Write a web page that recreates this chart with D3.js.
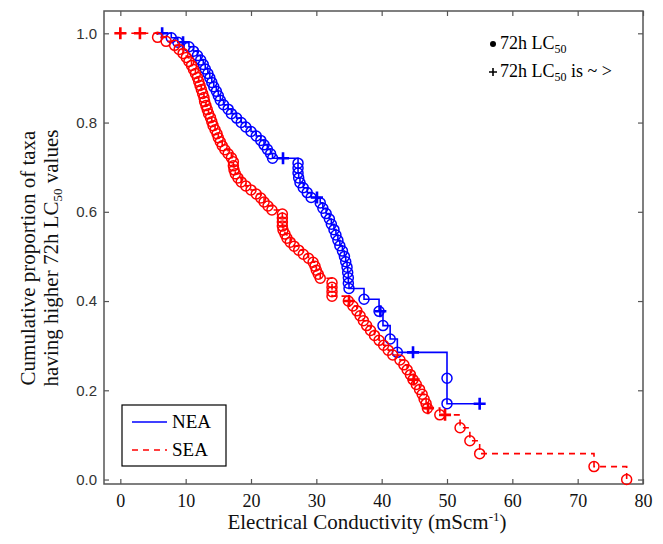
<!DOCTYPE html>
<html>
<head>
<meta charset="utf-8">
<script src="https://cdn.jsdelivr.net/npm/d3@7/dist/d3.min.js"></script>
<style>
  html, body { margin: 0; padding: 0; background: #fff; }
  svg { display: block; }
</style>
</head>
<body>
<svg id="chart" width="663" height="544"></svg>
<script>
// Survival-style step curves of 72h LC50 (electrical conductivity) for two regions.
// Each event point is where the curve steps down; censored points mark "is ~ >" values.

const neaEventX = [7.8, 8.8, 10.5, 11.2, 11.8, 12.3, 12.7, 13.0, 13.4, 13.7, 14.0, 14.3, 14.7, 15.0, 15.3, 15.8, 16.5, 17.0, 17.8, 18.5, 19.2, 20.0, 20.8, 21.5, 22.0, 22.5, 23.0, 23.3,
  27.2, 27.2, 27.2, 27.3, 27.5, 28.0, 28.6, 29.2,
  30.6, 31.0, 31.5, 32.0, 32.3, 32.7, 33.0, 33.3, 33.6, 34.0, 34.3, 34.5, 34.7, 34.8, 34.9, 34.9, 35.0,
  37.3, 39.6, 40.2, 41.3, 42.4, 50.0, 50.0];
const neaEventP = [0.990, 0.980, 0.970, 0.960, 0.950, 0.940, 0.930, 0.920, 0.910, 0.900, 0.890, 0.880, 0.870, 0.860, 0.850, 0.840, 0.830, 0.820, 0.810, 0.800, 0.790, 0.780, 0.770, 0.760, 0.750, 0.740, 0.730, 0.720,
  0.709, 0.698, 0.687, 0.676, 0.665, 0.654, 0.643, 0.632,
  0.620, 0.608, 0.596, 0.584, 0.572, 0.560, 0.548, 0.536, 0.524, 0.512, 0.500, 0.488, 0.476, 0.464, 0.452, 0.440, 0.428,
  0.404, 0.377, 0.345, 0.315, 0.285, 0.227, 0.170];
const neaCensorX = [6.4, 9.6, 24.9, 30.1, 39.8, 44.8, 55.0];
const neaCensorP = [1.000, 0.980, 0.720, 0.632, 0.377, 0.285, 0.170];

const seaEventX = [5.7, 7.0, 8.3, 9.0, 9.6, 10.1, 10.5, 10.9, 11.2, 11.5, 11.8, 12.0, 12.2, 12.4, 12.6, 12.8, 12.9, 13.1, 13.3, 13.5, 13.8, 14.0, 14.2, 14.5, 14.8, 15.0, 15.3, 15.6, 16.0, 16.5, 17.0,
  17.3, 17.3, 17.4, 17.6, 18.0, 18.5, 19.2, 20.0, 20.8, 21.5, 22.0, 22.6, 23.2,
  24.8, 24.8, 24.8, 24.8, 24.9, 25.2, 25.5, 26.0, 26.6, 27.3, 28.0, 28.8, 29.5, 29.8, 30.0, 30.3, 30.6,
  32.4, 32.4, 32.4, 32.4, 34.9,
  35.6, 36.2, 36.7, 37.2, 37.7, 38.3, 38.9, 39.6, 40.3, 41.0, 41.7, 42.8, 43.4, 43.9, 44.4, 44.8,
  45.3, 45.8, 46.2, 46.5, 46.8, 47.0, 48.9, 52.0, 53.5, 55.0, 72.5, 77.5];
const seaEventP = [0.991, 0.982, 0.973, 0.964, 0.955, 0.946, 0.937, 0.928, 0.919, 0.910, 0.901, 0.892, 0.883, 0.874, 0.865, 0.856, 0.847, 0.838, 0.829, 0.820, 0.811, 0.802, 0.793, 0.784, 0.775, 0.766, 0.757, 0.748, 0.739, 0.730, 0.721,
  0.712, 0.703, 0.694, 0.685, 0.676, 0.667, 0.658, 0.649, 0.640, 0.631, 0.622, 0.613, 0.604,
  0.595, 0.586, 0.577, 0.568, 0.559, 0.550, 0.541, 0.532, 0.523, 0.514, 0.505, 0.496, 0.487, 0.478, 0.469, 0.460, 0.451,
  0.441, 0.431, 0.421, 0.411, 0.400,
  0.389, 0.378, 0.367, 0.356, 0.345, 0.334, 0.323, 0.312, 0.301, 0.290, 0.279, 0.268, 0.257, 0.246, 0.235, 0.224,
  0.213, 0.202, 0.191, 0.180, 0.170, 0.160, 0.145, 0.116, 0.087, 0.058, 0.029, 0.000];
const seaCensorX = [0.0, 3.0, 35.0, 44.9, 47.1, 49.7];
const seaCensorP = [1.000, 1.000, 0.400, 0.224, 0.160, 0.145];

const xTicks = [0, 10, 20, 30, 40, 50, 60, 70, 80];
const yTicks = [0.0, 0.2, 0.4, 0.6, 0.8, 1.0];

const series = [
  { name: "NEA", color: "#0000ff", dash: null,
    ex: neaEventX, ep: neaEventP, cx: neaCensorX, cp: neaCensorP },
  { name: "SEA", color: "#ff0000", dash: "6,5",
    ex: seaEventX, ep: seaEventP, cx: seaCensorX, cp: seaCensorP }
];

const svg = d3.select("#chart");
const L = 104, R = 643, T = 11, B = 484;

const x = d3.scaleLinear().domain([-2.5, 80]).range([L, R]);
const y = d3.scaleLinear().domain([-0.01, 1.05]).range([B, T]);

const serif = "'Liberation Serif', 'Times New Roman', serif";
const sans = "'Liberation Sans', Arial, sans-serif";
const axisColor = "#555";

// Axes with inward ticks on all four sides
const gB = svg.append("g").attr("transform", `translate(0,${B})`)
  .call(d3.axisBottom(x).tickValues(xTicks).tickFormat(d3.format("d")).tickSizeInner(-5).tickSizeOuter(0).tickPadding(10));
gB.selectAll("text").attr("font-family", serif).attr("font-size", 18).attr("fill", "#111");

const gT = svg.append("g").attr("transform", `translate(0,${T})`)
  .call(d3.axisTop(x).tickValues(xTicks).tickFormat("").tickSizeInner(-5).tickSizeOuter(0));

const gL = svg.append("g").attr("transform", `translate(${L},0)`)
  .call(d3.axisLeft(y).tickValues(yTicks).tickFormat(d3.format(".1f")).tickSizeInner(-5).tickSizeOuter(0).tickPadding(7));
gL.selectAll("text").attr("font-family", sans).attr("font-size", 15).attr("fill", "#333");

const gR = svg.append("g").attr("transform", `translate(${R},0)`)
  .call(d3.axisRight(y).tickValues(yTicks).tickFormat("").tickSizeInner(-5).tickSizeOuter(0));

[gB, gT, gL, gR].forEach(g => {
  g.select(".domain").remove();
  g.selectAll(".tick line").attr("stroke", axisColor).attr("stroke-width", 1.2);
});

svg.append("rect")
  .attr("x", L).attr("y", T).attr("width", R - L).attr("height", B - T)
  .attr("fill", "none").attr("stroke", axisColor).attr("stroke-width", 1.5);

// Step curves, markers
const line = d3.line().x(d => x(d[0])).y(d => y(d[1])).curve(d3.curveStepAfter);
const plus = "M-6,0H6M0,-6V6";

series.forEach(s => {
  const pts = s.ex.map((v, i) => [v, s.ep[i], 0])
    .concat(s.cx.map((v, i) => [v, s.cp[i], 1]))
    .sort((a, b) => a[0] - b[0] || b[1] - a[1]);
  svg.append("path").datum(pts)
    .attr("d", line)
    .attr("fill", "none").attr("stroke", s.color).attr("stroke-width", 1.6)
    .attr("stroke-dasharray", s.dash);

  svg.append("g").selectAll("circle")
    .data(s.ex.map((v, i) => [v, s.ep[i]]))
    .join("circle")
    .attr("cx", d => x(d[0])).attr("cy", d => y(d[1])).attr("r", 5)
    .attr("fill", "none").attr("stroke", s.color).attr("stroke-width", 1.5);

  svg.append("g").selectAll("path")
    .data(s.cx.map((v, i) => [v, s.cp[i]]))
    .join("path")
    .attr("d", plus)
    .attr("transform", d => `translate(${x(d[0])},${y(d[1])})`)
    .attr("fill", "none").attr("stroke", s.color).attr("stroke-width", 2.6);
});

// Marker key, upper right
const key = svg.append("g").attr("font-family", serif).attr("font-size", 18).attr("fill", "#000");
key.append("circle").attr("cx", 493).attr("cy", 44).attr("r", 3).attr("fill", "#000");
const k1 = key.append("text").attr("x", 500).attr("y", 49);
k1.append("tspan").text("72h LC");
k1.append("tspan").attr("font-size", 12).attr("dy", 4).text("50");
key.append("path").attr("d", "M-4,0H4M0,-4V4").attr("transform", "translate(493,72)")
  .attr("stroke", "#000").attr("stroke-width", 1.6);
const k2 = key.append("text").attr("x", 500).attr("y", 77);
k2.append("tspan").text("72h LC");
k2.append("tspan").attr("font-size", 12).attr("dy", 4).text("50");
k2.append("tspan").attr("dy", -4).text(" is ~ >");

// Series legend, lower left
const lg = svg.append("g");
lg.append("rect").attr("x", 122).attr("y", 405).attr("width", 104).attr("height", 61)
  .attr("fill", "#fff").attr("stroke", "#000").attr("stroke-width", 1.2);
series.forEach((s, i) => {
  const yy = 422 + i * 28;
  lg.append("line").attr("x1", 132).attr("x2", 167).attr("y1", yy).attr("y2", yy)
    .attr("stroke", s.color).attr("stroke-width", 1.6).attr("stroke-dasharray", s.dash);
  lg.append("text").attr("x", 172).attr("y", yy + 6)
    .attr("font-family", serif).attr("font-size", 19).text(s.name);
});

// Axis titles
const xt = svg.append("text").attr("x", 367).attr("y", 529).attr("text-anchor", "middle")
  .attr("font-family", serif).attr("font-size", 21).attr("fill", "#111");
xt.append("tspan").text("Electrical Conductivity (mScm");
xt.append("tspan").attr("font-size", 13).attr("dy", -8).text("-1");
xt.append("tspan").attr("dy", 8).text(")");

const yt = svg.append("text").attr("transform", "translate(0,258) rotate(-90)")
  .attr("text-anchor", "middle").attr("font-family", serif).attr("font-size", 21).attr("fill", "#111");
yt.append("tspan").attr("x", 0).attr("y", 35).text("Cumulative proportion of taxa");
const yl2 = yt.append("tspan").attr("x", 0).attr("y", 58);
yl2.append("tspan").text("having higher 72h LC");
yl2.append("tspan").attr("font-size", 13).attr("dy", 4).text("50");
yl2.append("tspan").attr("dy", -4).text(" values");
</script>
</body>
</html>
